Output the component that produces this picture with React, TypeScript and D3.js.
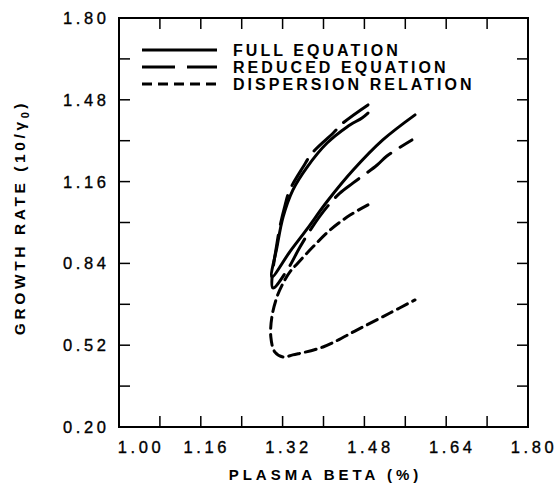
import React from "react";
import * as d3 from "d3";

// ---- data (x: plasma beta %, y: growth rate) ----
const fullEquation: [number, number][] = [
  [1.487, 1.428], [1.476, 1.41], [1.446, 1.374], [1.407, 1.311], [1.368, 1.217], [1.34, 1.127],
  [1.321, 1.022], [1.309, 0.904], [1.299, 0.787],
  [1.334, 0.885], [1.368, 0.975], [1.407, 1.082], [1.458, 1.205], [1.516, 1.323], [1.579, 1.421],
];
const reducedEquation: [number, number][] = [
  [1.487, 1.46], [1.438, 1.389], [1.419, 1.35], [1.378, 1.272], [1.36, 1.217], [1.334, 1.127],
  [1.325, 1.069], [1.311, 0.943], [1.301, 0.744],
  [1.329, 0.814], [1.354, 0.904], [1.378, 0.982], [1.407, 1.061], [1.432, 1.115], [1.458, 1.155],
  [1.505, 1.225], [1.524, 1.26], [1.573, 1.323],
];
const dispersionRelation: [number, number][] = [
  [1.487, 1.069], [1.452, 1.029], [1.413, 0.971], [1.379, 0.904], [1.35, 0.842], [1.334, 0.806],
  [1.321, 0.763], [1.309, 0.709], [1.299, 0.63], [1.297, 0.552], [1.305, 0.493], [1.321, 0.474],
  [1.34, 0.482], [1.399, 0.513], [1.466, 0.58], [1.53, 0.646], [1.579, 0.697],
];
const seriesNames = ["FULL EQUATION", "REDUCED EQUATION", "DISPERSION RELATION"];
const xTickLabels = [1.0, 1.16, 1.32, 1.48, 1.64, 1.8];
const yTickLabels = [0.2, 0.52, 0.84, 1.16, 1.48, 1.8];
const xMinorStep = 0.08;
const yMinorStep = 0.16;

const W = 558;
const H = 485;
const left = 119, right = 528, top = 18, bottom = 427;

export default function App() {
  const x = d3.scaleLinear().domain([1.0, 1.8]).range([left, right]);
  const y = d3.scaleLinear().domain([0.2, 1.8]).range([bottom, top]);
  const line = d3
    .line<[number, number]>()
    .x((d) => x(d[0]))
    .y((d) => y(d[1]))
    .curve(d3.curveCatmullRom.alpha(0.5));

  const xTicks = d3.range(0, 11).map((i) => +(1.0 + i * xMinorStep).toFixed(2));
  const yTicks = d3.range(0, 11).map((i) => +(0.2 + i * yMinorStep).toFixed(2));
  const tickLen = 11;
  const font = "'Liberation Sans', Arial, Helvetica, sans-serif";

  const series = [
    { data: fullEquation, dash: "none" },
    { data: reducedEquation, dash: "30,11" },
    { data: dispersionRelation, dash: "11,6" },
  ];
  const legendDash = ["none", "33,12", "10,6"];

  return (
    <svg
      width={W}
      height={H}
      style={{ position: "absolute", left: 0, top: 0, background: "#fff" }}
      fontFamily={font}
    >
      <rect x={0} y={0} width={W} height={H} fill="#fff" />
      {/* ticks */}
      <g stroke="#000" strokeWidth={1.5}>
        {xTicks.slice(1, -1).map((t) => (
          <g key={"xt" + t}>
            <line x1={x(t)} x2={x(t)} y1={bottom} y2={bottom - tickLen} />
            <line x1={x(t)} x2={x(t)} y1={top} y2={top + tickLen} />
          </g>
        ))}
        {yTicks.slice(1, -1).map((t) => (
          <g key={"yt" + t}>
            <line x1={left} x2={left + tickLen} y1={y(t)} y2={y(t)} />
            <line x1={right} x2={right - tickLen} y1={y(t)} y2={y(t)} />
          </g>
        ))}
      </g>
      <rect
        x={left}
        y={top}
        width={right - left}
        height={bottom - top}
        fill="none"
        stroke="#000"
        strokeWidth={2}
      />
      {/* tick labels */}
      <g fontSize={16.5} letterSpacing={3.6} fill="#000" stroke="#000" strokeWidth={0.35}>
        {xTickLabels.map((t) => (
          <text
            key={"xl" + t}
            x={x(t) + (t === 1.0 ? 22 : 6)}
            y={453}
            textAnchor="middle"
          >
            {t.toFixed(2)}
          </text>
        ))}
        {yTickLabels.map((t) => (
          <text key={"yl" + t} x={109.5} y={y(t) + 6} textAnchor="end">
            {t.toFixed(2)}
          </text>
        ))}
      </g>
      {/* axis titles */}
      <text
        x={(left + right) / 2 + 2}
        y={480}
        textAnchor="middle"
        fontSize={15}
        fontWeight="bold"
        letterSpacing={4}
      >
        PLASMA BETA (%)
      </text>
      <text
        transform={`translate(25,${(top + bottom) / 2 - 5}) rotate(-90)`}
        textAnchor="middle"
        fontSize={15.5}
        fontWeight="bold"
        letterSpacing={3.6}
      >
        GROWTH RATE (10/γ
        <tspan fontSize={11} dy={4}>0</tspan>
        <tspan dy={-4}>)</tspan>
      </text>
      {/* curves */}
      <g fill="none" stroke="#000" strokeWidth={3} strokeLinecap="round" strokeLinejoin="round">
        {series.map((s, i) => (
          <path key={"s" + i} d={line(s.data) || ""} strokeDasharray={s.dash} />
        ))}
      </g>
      {/* legend */}
      <g>
        {seriesNames.map((name, i) => (
          <g key={"lg" + i} transform={`translate(0,${50 + i * 17})`}>
            <line
              x1={142}
              x2={217}
              y1={0}
              y2={0}
              stroke="#000"
              strokeWidth={3}
              strokeDasharray={legendDash[i]}
            />
            <text x={233} y={6} fontSize={16} fontWeight="bold" letterSpacing={3.05}>
              {name}
            </text>
          </g>
        ))}
      </g>
    </svg>
  );
}
